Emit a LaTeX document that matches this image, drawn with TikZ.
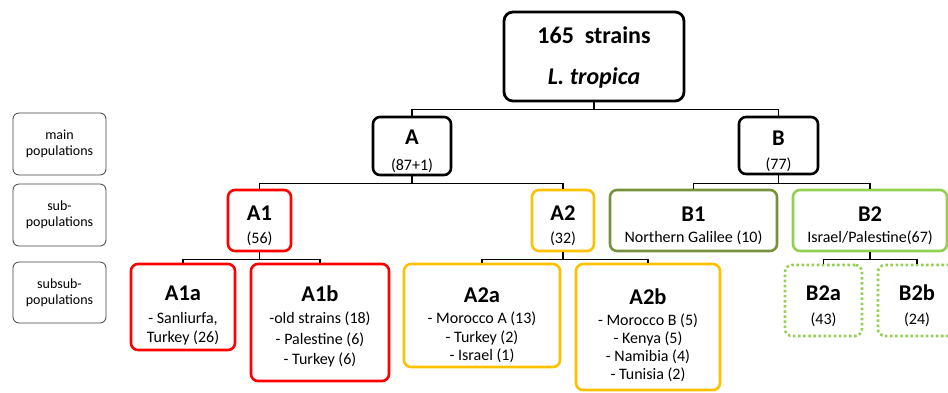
\documentclass[tikz,border=0pt]{standalone}
\usepackage{fontspec}
\setmainfont{Carlito}
\definecolor{cladeRed}{RGB}{255,0,0}
\definecolor{cladeGold}{RGB}{255,192,0}
\definecolor{cladeOlive}{RGB}{118,146,60}
\definecolor{cladeGreen}{RGB}{146,208,80}
\newcommand{\cladehead}[1]{{\fontsize{22.5}{26}\selectfont\bfseries #1}}
\begin{document}
\begin{tikzpicture}[x=1pt,y=-1pt,
    every node/.style={font=\fontsize{16}{19}\selectfont},
    clade/.style={draw, rounded corners=7pt, line width=2.6pt, align=center, inner sep=0pt},
    subclade/.style={clade, dash pattern=on 2.5pt off 2.6pt},
    levelbox/.style={draw=black!75, rounded corners=6pt, line width=0.8pt, align=center,
      minimum width=93pt, font=\fontsize{14}{16}\selectfont},
    link/.style={line width=1.4pt}]
  \useasboundingbox (0,0) rectangle (948,392);
  % level labels
  \node[levelbox, minimum height=62pt] (lvlmain) at (59.5,144) {main\\populations};
  \node[levelbox, minimum height=62pt] (lvlsub) at (59.5,215) {sub-\\populations};
  \node[levelbox, minimum height=61pt] (lvlsubsub) at (59.5,292.5) {subsub-\\populations};
  % root
  \node[clade, rounded corners=9pt, line width=2.8pt, minimum width=180pt, text height=72.5pt, text depth=16.5pt] (root) at (594,56.5)
    {{\fontsize{24}{26}\selectfont\bfseries 165\ \ strains}\\[22pt]{\fontsize{24}{26}\selectfont\bfseries\itshape L. tropica}};
  % main populations
  \node[clade, minimum width=78pt, text height=53pt, text depth=5pt] (A) at (412,146) {\cladehead{A}\\[7pt](87+1)};
  \node[clade, minimum width=79pt, text height=52pt, text depth=5pt] (B) at (778.5,145.5) {\cladehead{B}\\[4.5pt](77)};
  % sub-populations
  \node[clade, draw=cladeRed, minimum width=63pt, text height=53pt, text depth=8pt] (A1) at (259.5,220.5) {\cladehead{A1}\\[3.5pt](56)};
  \node[clade, draw=cladeGold, minimum width=62pt, text height=53pt, text depth=8pt] (A2) at (563,220.5) {\cladehead{A2}\\[3.5pt](32)};
  \node[clade, draw=cladeOlive, minimum width=167pt, text height=52.5pt, text depth=8.5pt] (B1) at (693.5,220.5) {\cladehead{B1}\\[2.5pt]Northern Galilee (10)};
  \node[clade, draw=cladeGreen, minimum width=154pt, text height=52.5pt, text depth=8.5pt] (B2) at (870,220.5) {\cladehead{B2}\\[2.5pt]Israel/Palestine(67)};
  % subsub-populations
  \node[clade, draw=cladeRed, minimum width=104pt, text height=78pt, text depth=8pt] (A1a) at (183,307)
    {\cladehead{A1a}\\[3.5pt]- Sanliurfa,\\Turkey (26)};
  \node[clade, draw=cladeRed, minimum width=138pt, text height=100.5pt, text depth=16.5pt] (A1b) at (320,322.5)
    {\cladehead{A1b}\\[3.5pt]-old strains (18)\\[1.5pt]- Palestine (6)\\[1.5pt]- Turkey (6)};
  \node[clade, draw=cladeGold, minimum width=156pt, text height=96.5pt, text depth=6.5pt] (A2a) at (482,315.5)
    {\cladehead{A2a}\\[2.5pt]- Morocco A (13)\\[-0.5pt]- Turkey (2)\\[-0.5pt]- Israel (1)};
  \node[clade, draw=cladeGold, minimum width=144pt, text height=115pt, text depth=11pt] (A2b) at (648,327)
    {\cladehead{A2b}\\[2pt]- Morocco B (5)\\[-1pt]- Kenya (5)\\[-1pt]- Namibia (4)\\[-1pt]- Tunisia (2)};
  \node[subclade, draw=cladeGreen, minimum width=77pt, text height=59pt, text depth=12pt] (B2a) at (823.5,300.5) {\cladehead{B2a}\\[5pt](43)};
  \node[subclade, draw=cladeGreen, minimum width=78pt, text height=59pt, text depth=12pt] (B2b) at (917,300.5) {\cladehead{B2b}\\[5pt](24)};
  % tree links
  \draw[link] (root.south) -- ++(0,7) -| (A.north);
  \draw[link] (root.south) -- ++(0,7) -| (B.north);
  \draw[link] (A.south) -- ++(0,7) -| (A1.north);
  \draw[link] (A.south) -- ++(0,7) -| (A2.north);
  \draw[link] (B.south) -- ++(0,8) -| (B1.north);
  \draw[link] (B.south) -- ++(0,8) -| (B2.north);
  \draw[link] (A1.south) -- ++(0,7) -| (A1a.north);
  \draw[link] (A1.south) -- ++(0,7) -| (A1b.north);
  \draw[link] (A2.south) -- ++(0,7) -| (A2a.north);
  \draw[link] (A2.south) -- ++(0,7) -| (A2b.north);
  \draw[link] (B2.south) -- ++(0,7) -| (B2a.north);
  \draw[link] (B2.south) -- ++(0,7) -| (B2b.north);
\end{tikzpicture}
\end{document}
